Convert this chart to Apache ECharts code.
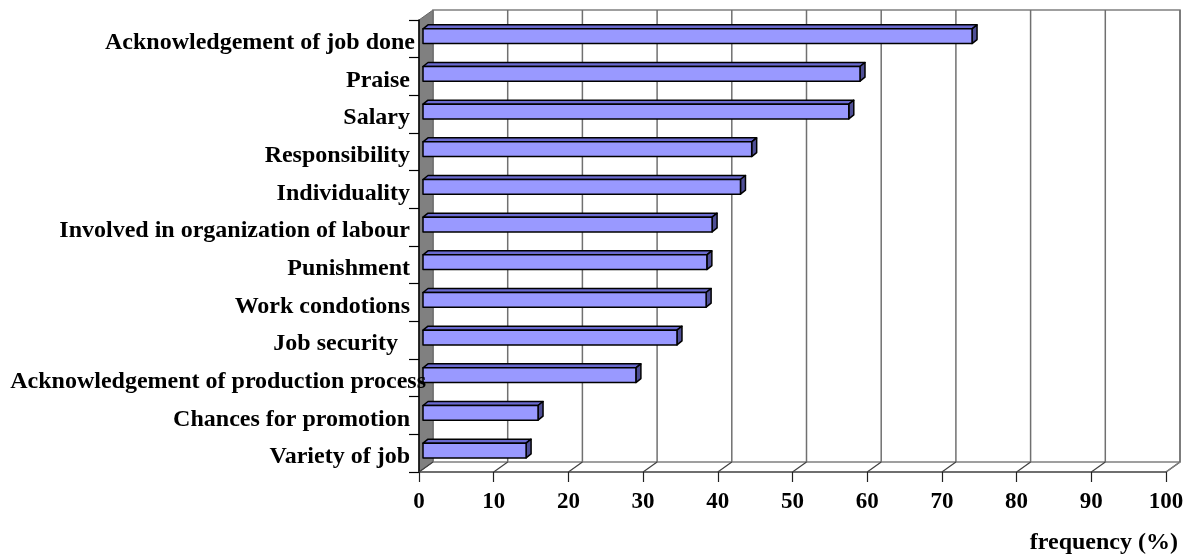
<!DOCTYPE html>
<html>
<head>
<meta charset="utf-8">
<script src="https://cdn.jsdelivr.net/npm/echarts@6/dist/echarts.min.js"></script>
<style>html,body{margin:0;padding:0;background:#fff;}#c{width:1196px;height:557px;}</style>
</head>
<body>
<div id="c"></div>
<script>
const categories = [
  'Acknowledgement of job done',
  'Praise',
  'Salary',
  'Responsibility',
  'Individuality',
  'Involved in organization of labour',
  'Punishment',
  'Work condotions',
  'Job security',
  'Acknowledgement of production process',
  'Chances for promotion',
  'Variety of job'
];
const values = [73.5, 58.5, 57.0, 44.0, 42.5, 38.7, 38.0, 37.9, 34.0, 28.5, 15.4, 13.8];
const xTicks = [0, 10, 20, 30, 40, 50, 60, 70, 80, 90, 100];
const axisName = 'frequency (%)';

const FONT = '"Liberation Serif", "Times New Roman", serif';
const DX = 14, DY = 10;      // wall depth
const BDX = 5, BDY = 4;      // bar depth

const chart = echarts.init(document.getElementById('c'), null, {renderer: 'canvas'});

function renderWalls(params, api) {
  const cs = params.coordSys;
  const x = cs.x, y = cs.y, w = cs.width, h = cs.height;
  const children = [];
  children.push({type: 'polygon', shape: {points: [[x, y], [x + DX, y - DY], [x + DX, y + h - DY], [x, y + h]]},
    style: {fill: '#808080', stroke: '#666', lineWidth: 1}});
  children.push({type: 'rect', shape: {x: x + DX, y: y - DY, width: w, height: h},
    style: {fill: '#fff', stroke: '#808080', lineWidth: 1.5}});
  xTicks.forEach(t => {
    const px = api.coord([t, 0])[0];
    children.push({type: 'line', shape: {x1: px + DX, y1: y - DY, x2: px + DX, y2: y + h - DY},
      style: {stroke: '#707070', lineWidth: 1.5}});
    children.push({type: 'line', shape: {x1: px, y1: y + h, x2: px + DX, y2: y + h - DY},
      style: {stroke: '#404040', lineWidth: 1.2}});
  });
  children.push({type: 'line', shape: {x1: x + w, y1: y + h, x2: x + w + DX, y2: y + h - DY},
    style: {stroke: '#808080', lineWidth: 1.5}});
  return {type: 'group', children: children};
}

function renderBar(params, api) {
  const v = api.value(0), c = api.value(1);
  const p0 = api.coord([0, c]);
  const p1 = api.coord([v, c]);
  const band = api.size([0, 1])[1];
  const bh = band * 0.39;
  const cy = p0[1] - band * 0.07;
  const x0 = p0[0] + 4, x1 = p1[0] + 4;
  const yt = cy - bh / 2, yb = cy + bh / 2;
  const stroke = {stroke: '#000', lineWidth: 1.5, lineJoin: 'round'};
  return {type: 'group', children: [
    {type: 'polygon', shape: {points: [[x0, yt], [x1, yt], [x1 + BDX, yt - BDY], [x0 + BDX, yt - BDY]]},
      style: Object.assign({fill: '#6a6ad0'}, stroke)},
    {type: 'polygon', shape: {points: [[x1, yt], [x1 + BDX, yt - BDY], [x1 + BDX, yb - BDY], [x1, yb]]},
      style: Object.assign({fill: '#4f4f96'}, stroke)},
    {type: 'rect', shape: {x: x0, y: yt, width: x1 - x0, height: bh},
      style: Object.assign({fill: '#9999ff'}, stroke)}
  ]};
}

const labelPad = {
  'Acknowledgement of job done': [0, -5, 0, 0],
  'Job security': [0, 12, 0, 0],
  'Acknowledgement of production process': [0, -16, 0, 0]
};
const yData = categories.map(c => {
  if (labelPad[c]) {
    return {value: c, textStyle: {padding: labelPad[c], overflow: 'none', verticalAlign: 'top', lineHeight: 8}};
  }
  return c;
});

chart.setOption({
  animation: false,
  backgroundColor: '#fff',
  title: {
    text: axisName, right: 13, top: 526,
    textStyle: {fontFamily: FONT, fontWeight: 'bold', fontSize: 24, color: '#000'}
  },
  grid: {left: 419, right: 30, top: 20, bottom: 85, outerBoundsMode: 'none', containLabel: false},
  xAxis: {
    type: 'value', min: 0, max: 100, interval: 10, z: 10,
    axisLine: {show: true, lineStyle: {color: '#404040', width: 1.5}},
    axisTick: {show: true, length: 10, lineStyle: {color: '#202020', width: 1.2}},
    splitLine: {show: false},
    axisLabel: {margin: 19, fontFamily: FONT, fontWeight: 'bold', fontSize: 23, color: '#000'}
  },
  yAxis: {
    type: 'category', data: yData, inverse: true, z: 10,
    axisLine: {show: true, lineStyle: {color: '#000', width: 1.5}},
    axisTick: {show: true, length: 10, lineStyle: {color: '#000', width: 1.2}},
    axisLabel: {margin: 9, verticalAlign: 'top', lineHeight: 8, overflow: 'none',
      fontFamily: FONT, fontWeight: 'bold', fontSize: 24, color: '#000'},
    splitLine: {show: false}
  },
  series: [
    {type: 'custom', renderItem: renderWalls, data: [[0, 0]], clip: false, z: 1, silent: true},
    {type: 'custom', renderItem: renderBar, data: values.map((v, i) => [v, i]),
      encode: {x: 0, y: 1}, clip: false, z: 3}
  ]
});
</script>
</body>
</html>
